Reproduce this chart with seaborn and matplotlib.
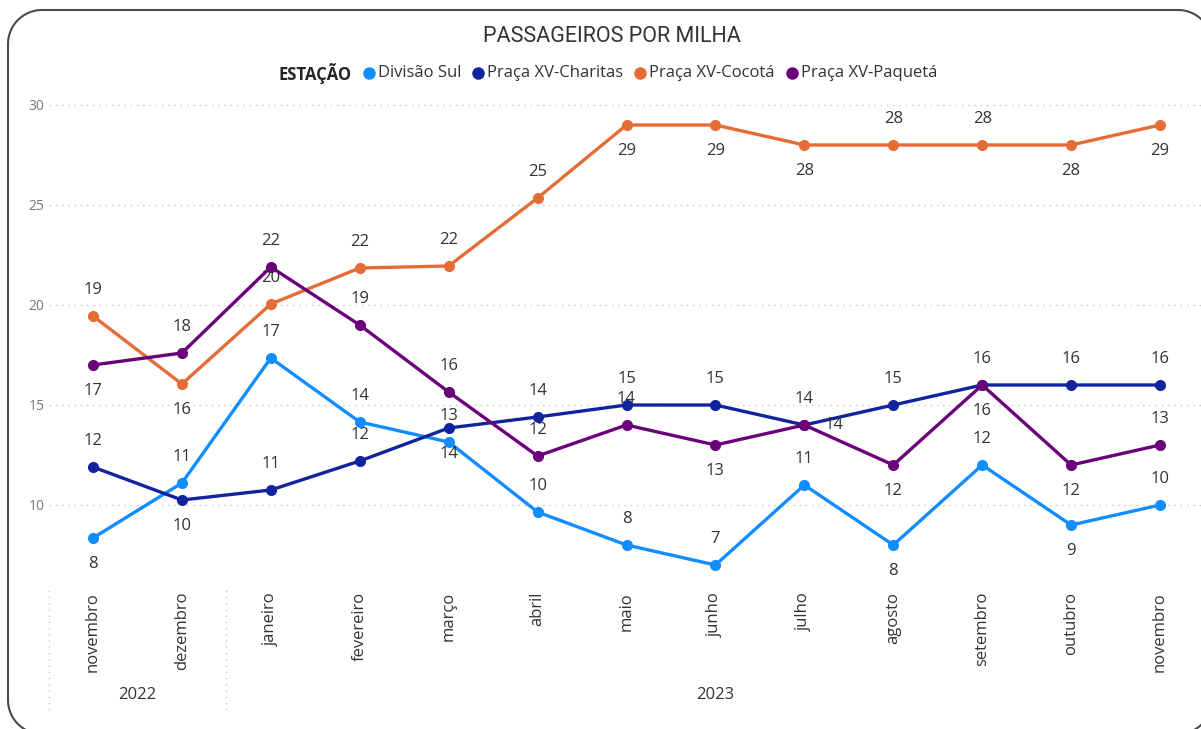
import matplotlib
matplotlib.use("Agg")
import matplotlib.pyplot as plt
import matplotlib.transforms as mtransforms
from matplotlib.patches import PathPatch
from matplotlib.path import Path
from matplotlib.lines import Line2D
import seaborn as sns
import pandas as pd
import numpy as np

# ---------------- data ----------------
months = ["novembro", "dezembro", "janeiro", "fevereiro", "março", "abril", "maio",
          "junho", "julho", "agosto", "setembro", "outubro", "novembro"]
years = ["2022", "2022", "2023", "2023", "2023", "2023", "2023",
         "2023", "2023", "2023", "2023", "2023", "2023"]
series_names = ["Divisão Sul", "Praça XV-Charitas", "Praça XV-Cocotá", "Praça XV-Paquetá"]
divisao_sul = [8.35, 11.1, 17.35, 14.15, 13.15, 9.65, 8.0, 7.0, 11.0, 8.0, 12.0, 9.0, 10.0]
charitas = [11.9, 10.25, 10.75, 12.2, 13.85, 14.4, 15.0, 15.0, 14.0, 15.0, 16.0, 16.0, 16.0]
cocota = [19.45, 16.05, 20.05, 21.85, 21.95, 25.35, 29.0, 29.0, 28.0, 28.0, 28.0, 28.0, 29.0]
paqueta = [17.0, 17.6, 21.9, 19.0, 15.65, 12.45, 14.0, 13.0, 14.0, 12.0, 16.0, 12.0, 13.0]
y_ticks = [10, 15, 20, 25, 30]

# ---------------- style ----------------
colors = ["#118DFF", "#12239E", "#E66C37", "#6B007B"]
# label placement: a = above, b = below, r = right
label_pos = [
    list("baaaaaaaababa"),
    list("abaabaaaraaaa"),
    list("abaaaabbbaabb"),
    list("baaaaaababbba"),
]

sns.set_theme(style="white")
plt.rcParams["font.family"] = ["Open Sans", "DejaVu Sans"]

W, H = 1201, 729
fig = plt.figure(figsize=(W / 100, H / 100), dpi=100)
fig.patch.set_facecolor("white")

# card border drawn in pixel coordinates (y measured from top), right/bottom edges off-canvas
def rounded_rect(x0, y0, x1, y1, r):
    pts = []
    def arc(cx, cy, a0, a1):
        for a in np.linspace(a0, a1, 24):
            pts.append((cx + r * np.cos(a), cy + r * np.sin(a)))
    # y down coordinates
    arc(x0 + r, y0 + r, np.pi, 1.5 * np.pi)          # top-left
    arc(x1 - r, y0 + r, 1.5 * np.pi, 2 * np.pi)      # top-right
    arc(x1 - r, y1 - r, 0, 0.5 * np.pi)              # bottom-right
    arc(x0 + r, y1 - r, 0.5 * np.pi, np.pi)          # bottom-left
    pts.append(pts[0])
    return np.array([(px / W, 1 - py / H) for px, py in pts])

verts = rounded_rect(8, 10, 1212, 734, 34)
fig.add_artist(PathPatch(Path(verts), transform=fig.transFigure, fill=False,
                         edgecolor="#4a4a4a", lw=1.5))

ax_left, ax_right = 48.5, 1204.5
ax_top, ax_bottom = 95, 585
ax = fig.add_axes([ax_left / W, 1 - ax_bottom / H, (ax_right - ax_left) / W, (ax_bottom - ax_top) / H])
ax.set_facecolor("none")

all_vals = [divisao_sul, charitas, cocota, paqueta]
rows = []
for name, vals in zip(series_names, all_vals):
    for i, v in enumerate(vals):
        rows.append({"idx": i, "valor": v, "estacao": name})
df = pd.DataFrame(rows)

sns.lineplot(data=df, x="idx", y="valor", hue="estacao", hue_order=series_names,
             palette=colors, marker="o", markersize=8, markeredgewidth=0,
             linewidth=2.4, ax=ax, legend=False, sort=False)

ax.set_xlim(-0.5, len(months) - 0.5)
ax.set_ylim(6, 30.5)
for s in ax.spines.values():
    s.set_visible(False)

ax.set_yticks(y_ticks)
ax.set_yticklabels([str(t) for t in y_ticks], color="#777777", fontsize=10)
ax.yaxis.grid(True, linestyle=(0, (1, 3.5)), color="#c8c8c8", lw=1)
ax.xaxis.grid(False)
ax.set_xticks(range(len(months)))
ax.set_xticklabels(months, rotation=90, color="#333333", fontsize=12, va="top", ha="center")
ax.tick_params(axis="both", length=0)
ax.tick_params(axis="x", pad=5)
ax.tick_params(axis="y", pad=3)
ax.set_xlabel("")
ax.set_ylabel("")

# data labels
off = 26
for vals, poss in zip(all_vals, label_pos):
    for i, (v, p) in enumerate(zip(vals, poss)):
        if p == "a":
            dx, dy = 0, off
        elif p == "b":
            dx, dy = 0, -off
        else:
            dx, dy = 30, 0
        ax.annotate(str(int(round(v))), (i, v), xytext=(dx, dy), textcoords="offset pixels",
                    ha="center", va="center", fontsize=12, color="#333333")

# year row
blend = mtransforms.blended_transform_factory(ax.transData, fig.transFigure)
groups = []
for i, y in enumerate(years):
    if not groups or groups[-1][0] != y:
        groups.append([y, i, i])
    else:
        groups[-1][2] = i
for y, i0, i1 in groups:
    fig.text((i0 + i1) / 2, 1 - 695 / H, y, transform=blend, ha="center", va="center",
             fontsize=12, color="#333333")
    fig.add_artist(Line2D([i0 - 0.5, i0 - 0.5], [1 - 590 / H, 1 - 712 / H], transform=blend,
                          color="#c8c8c8", lw=1, linestyle=(0, (1, 3.5))))

# title
fig.text(612 / W, 1 - 36 / H, "PASSAGEIROS POR MILHA", ha="center", va="center",
         fontsize=15.5, color="#333333", family=["Roboto", "DejaVu Sans"])

# legend (manual, horizontal with title on the left)
renderer = fig.canvas.get_renderer()
ly = 1 - 73 / H
items = []
t = fig.text(0, ly, "ESTAÇÃO", ha="left", va="center", fontsize=12, fontweight="bold", color="#252423")
items.append(("title", t, None))
for name, c in zip(series_names, colors):
    tt = fig.text(0, ly, name, ha="left", va="center", fontsize=12, color="#333333")
    items.append(("item", tt, c))
widths = [it[1].get_window_extent(renderer).width for it in items]
gap_title = 17
gap_text = 9
total = widths[0]
for w in widths[1:]:
    total += gap_title + gap_text + w
x = 608 - total / 2
items[0][1].set_x(x / W)
x += widths[0]
for (kind, tt, c), w in zip(items[1:], widths[1:]):
    mx = x + gap_title
    fig.add_artist(Line2D([mx / W], [ly], marker="o", markersize=9, markeredgewidth=0,
                          color=c, transform=fig.transFigure, linestyle="none"))
    tt.set_x((mx + gap_text) / W)
    x = mx + gap_text + w

fig.savefig("out.png", dpi=100, facecolor="white")
